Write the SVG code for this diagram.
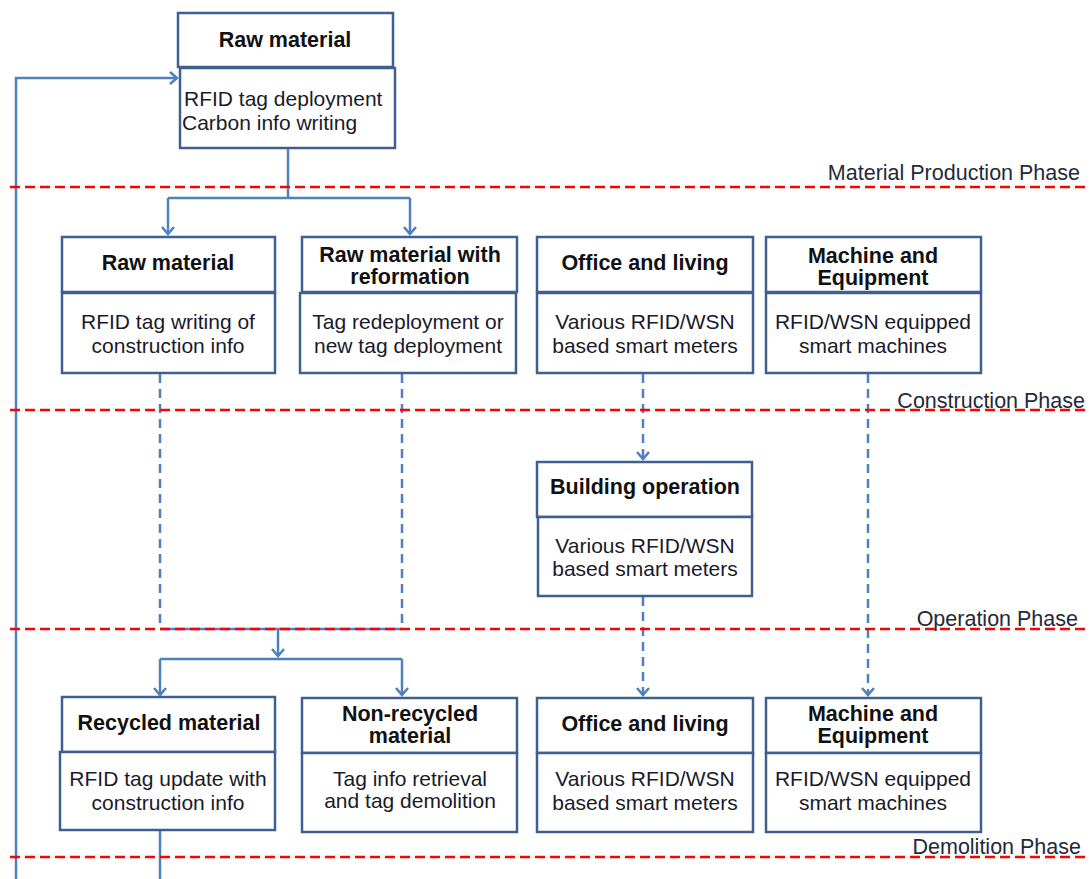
<svg xmlns="http://www.w3.org/2000/svg" width="1090" height="879" viewBox="0 0 1090 879">
<style>
.box{fill:#fff;stroke:#3f5f8f;stroke-width:2.5}
.t{font-family:"Liberation Sans",Arial,sans-serif;font-size:21.5px;font-weight:bold;fill:#111;text-anchor:middle}
.b{font-family:"Liberation Sans",Arial,sans-serif;font-size:21px;fill:#1a1a2a;text-anchor:middle}
.ph{font-family:"Liberation Sans",Arial,sans-serif;font-size:21.5px;fill:#1f2a3a;text-anchor:end}
.c{fill:none;stroke:#4f81bd;stroke-width:2.5}
.d{fill:none;stroke:#4f81bd;stroke-width:2.5;stroke-dasharray:9,6}
.r{fill:none;stroke:#ff0000;stroke-width:2.5;stroke-dasharray:10,5}
</style>
<defs>
<marker id="arr" viewBox="-10 -8 12 16" markerWidth="12" markerHeight="16" refX="0" refY="0" orient="auto" markerUnits="userSpaceOnUse">
<path d="M-7,-6 L0,0 L-7,6" fill="none" stroke="#4f81bd" stroke-width="2.5"/>
</marker>
</defs>
<rect width="1090" height="879" fill="#fff"/>
<g id="connectors">
<path class="c" d="M16,879 V78 H177" marker-end="url(#arr)"/>
<path class="c" d="M288,149 V198"/>
<path class="c" d="M168,198 H410"/>
<path class="c" d="M168,198 V234" marker-end="url(#arr)"/>
<path class="c" d="M410,198 V234" marker-end="url(#arr)"/>
<path class="d" d="M160,374 V629"/>
<path class="d" d="M402,374 V629"/>
<path class="d" d="M643,374 V459" marker-end="url(#arr)"/>
<path class="d" d="M868,374 V695" marker-end="url(#arr)"/>
<path class="d" d="M643,597 V695" marker-end="url(#arr)"/>
<path class="c" d="M160,629 H402"/>
<path class="c" d="M278,629 V656" marker-end="url(#arr)"/>
<path class="c" d="M160,659 H402"/>
<path class="c" d="M160,659 V695" marker-end="url(#arr)"/>
<path class="c" d="M402,659 V695" marker-end="url(#arr)"/>
<path class="c" d="M160,831 V879"/>
</g>
<g id="phases">
<line class="r" x1="10" y1="187" x2="1090" y2="187"/>
<line class="r" x1="10" y1="410" x2="1090" y2="410"/>
<line class="r" x1="10" y1="629" x2="1090" y2="629"/>
<line class="r" x1="10" y1="857" x2="1090" y2="857"/>
<text class="ph" x="1080" y="180">Material Production Phase</text>
<text class="ph" x="1085" y="408">Construction Phase</text>
<text class="ph" x="1078" y="626">Operation Phase</text>
<text class="ph" x="1081" y="854">Demolition Phase</text>
</g>
<g id="n-top">
<rect class="box" x="178" y="13" width="215" height="54"/>
<rect class="box" x="180" y="68" width="215" height="80"/>
<text class="t" x="285" y="47">Raw material</text>
<text class="b" x="184" y="106" style="text-anchor:start">RFID tag deployment</text>
<text class="b" x="182" y="130" style="text-anchor:start">Carbon info writing</text>
</g>
<g id="n-raw">
<rect class="box" x="62" y="237" width="213" height="55"/>
<rect class="box" x="62" y="293" width="213" height="80"/>
<text class="t" x="168" y="270">Raw material</text>
<text class="b" x="168" y="329">RFID tag writing of</text>
<text class="b" x="168" y="353">construction  info</text>
</g>
<g id="n-reform">
<rect class="box" x="302" y="237" width="215" height="55"/>
<rect class="box" x="300" y="293" width="216" height="80"/>
<text class="t" x="410" y="262">Raw material with</text>
<text class="t" x="410" y="284">reformation</text>
<text class="b" x="408" y="329">Tag redeployment or</text>
<text class="b" x="408" y="353">new tag deployment</text>
</g>
<g id="n-office1">
<rect class="box" x="537" y="237" width="216" height="55"/>
<rect class="box" x="537" y="293" width="216" height="80"/>
<text class="t" x="645" y="270">Office and living</text>
<text class="b" x="645" y="329">Various RFID/WSN</text>
<text class="b" x="645" y="353">based smart meters</text>
</g>
<g id="n-machine1">
<rect class="box" x="766" y="237" width="215" height="55"/>
<rect class="box" x="766" y="293" width="215" height="80"/>
<text class="t" x="873" y="263">Machine and</text>
<text class="t" x="873" y="285">Equipment</text>
<text class="b" x="873" y="329">RFID/WSN equipped</text>
<text class="b" x="873" y="353">smart machines</text>
</g>
<g id="n-building">
<rect class="box" x="537" y="462" width="215" height="55"/>
<rect class="box" x="538" y="517" width="214" height="79"/>
<text class="t" x="645" y="494">Building operation</text>
<text class="b" x="645" y="553">Various RFID/WSN</text>
<text class="b" x="645" y="576">based smart meters</text>
</g>
<g id="n-recycled">
<rect class="box" x="62" y="697" width="213" height="55"/>
<rect class="box" x="60" y="752" width="215" height="78"/>
<text class="t" x="169" y="730">Recycled material</text>
<text class="b" x="168" y="786">RFID tag update with</text>
<text class="b" x="168" y="810">construction  info</text>
</g>
<g id="n-nonrecycled">
<rect class="box" x="302" y="698" width="215" height="55"/>
<rect class="box" x="302" y="753" width="215" height="79"/>
<text class="t" x="410" y="721">Non-recycled</text>
<text class="t" x="410" y="743">material</text>
<text class="b" x="410" y="786">Tag info retrieval</text>
<text class="b" x="410" y="808">and tag demolition</text>
</g>
<g id="n-office2">
<rect class="box" x="537" y="698" width="216" height="55"/>
<rect class="box" x="537" y="753" width="216" height="79"/>
<text class="t" x="645" y="731">Office and living</text>
<text class="b" x="645" y="786">Various RFID/WSN</text>
<text class="b" x="645" y="810">based smart meters</text>
</g>
<g id="n-machine2">
<rect class="box" x="766" y="698" width="215" height="55"/>
<rect class="box" x="766" y="753" width="215" height="79"/>
<text class="t" x="873" y="721">Machine and</text>
<text class="t" x="873" y="743">Equipment</text>
<text class="b" x="873" y="786">RFID/WSN equipped</text>
<text class="b" x="873" y="810">smart machines</text>
</g>
</svg>
